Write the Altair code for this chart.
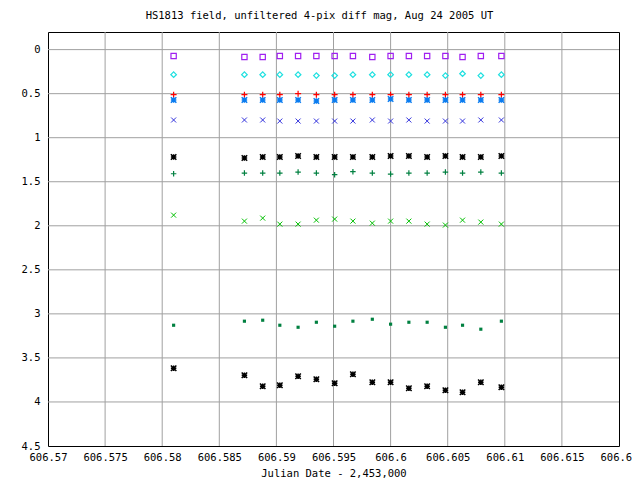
import altair as alt
import pandas as pd

# Julian Date - 2,453,000
jd = [606.5810, 606.5872, 606.5888, 606.5903, 606.5919, 606.5935, 606.5951, 606.5967,
      606.5984, 606.6000, 606.6016, 606.6032, 606.6048, 606.6063, 606.6079, 606.6097]

s_box = [0.072, 0.083, 0.083, 0.072, 0.072, 0.072, 0.072, 0.072, 0.083, 0.072, 0.072, 0.072, 0.072, 0.083, 0.072, 0.072]
s_diamond = [0.284, 0.284, 0.284, 0.284, 0.284, 0.295, 0.295, 0.284, 0.284, 0.284, 0.284, 0.284, 0.295, 0.273, 0.295, 0.284]
s_redplus = [0.511, 0.511, 0.511, 0.511, 0.500, 0.511, 0.511, 0.511, 0.511, 0.511, 0.511, 0.511, 0.511, 0.511, 0.511, 0.511]
s_bluestar = [0.572, 0.572, 0.572, 0.572, 0.572, 0.583, 0.572, 0.572, 0.572, 0.561, 0.572, 0.572, 0.572, 0.572, 0.572, 0.572]
s_bluex = [0.799, 0.799, 0.799, 0.811, 0.811, 0.811, 0.811, 0.811, 0.799, 0.811, 0.799, 0.811, 0.811, 0.811, 0.799, 0.799]
s_blackstar1 = [1.220, 1.231, 1.220, 1.220, 1.208, 1.220, 1.220, 1.220, 1.220, 1.208, 1.208, 1.220, 1.208, 1.220, 1.220, 1.208]
s_greenplus = [1.409, 1.402, 1.402, 1.402, 1.390, 1.402, 1.420, 1.386, 1.402, 1.413, 1.402, 1.402, 1.390, 1.402, 1.390, 1.402]
s_greenx = [1.879, 1.947, 1.913, 1.981, 1.981, 1.936, 1.924, 1.947, 1.970, 1.947, 1.947, 1.981, 1.992, 1.936, 1.958, 1.981]
s_greensq = [3.129, 3.083, 3.072, 3.129, 3.152, 3.095, 3.140, 3.083, 3.061, 3.117, 3.095, 3.095, 3.152, 3.129, 3.174, 3.083]
s_blackstar2 = [3.617, 3.697, 3.822, 3.811, 3.708, 3.742, 3.788, 3.686, 3.776, 3.776, 3.845, 3.822, 3.867, 3.890, 3.776, 3.833]

x_ticks = [606.57, 606.575, 606.58, 606.585, 606.59, 606.595, 606.6, 606.605, 606.61, 606.615, 606.62]
y_ticks = [0, 0.5, 1, 1.5, 2, 2.5, 3, 3.5, 4, 4.5]

TITLE = "HS1813 field, unfiltered 4-pix diff mag, Aug 24 2005 UT"
XTITLE = "Julian Date - 2,453,000"
FONT = "DejaVu Sans Mono"

PLUS = "M-1,0L1,0M0,-1L0,1"
CROSS = "M-1,-1L1,1M-1,1L1,-1"
STAR = PLUS + CROSS

series = [
    ("box", s_box, "square", "#a020f0", 28, False, 1.2),
    ("diamond", s_diamond, "diamond", "#20e0e0", 30, False, 1.3),
    ("redplus", s_redplus, PLUS, "#ff0000", 36, False, 1.2),
    ("bluestar", s_bluestar, STAR, "#0a7cf0", 30, False, 1.5),
    ("bluex", s_bluex, CROSS, "#3333dd", 25, False, 1),
    ("blackstar1", s_blackstar1, STAR, "#000000", 30, False, 1.5),
    ("greenplus", s_greenplus, PLUS, "#008040", 30, False, 1.2),
    ("greenx", s_greenx, CROSS, "#00c000", 25, False, 1),
    ("greensq", s_greensq, "square", "#008040", 10, True, 0),
    ("blackstar2", s_blackstar2, STAR, "#000000", 30, False, 1.5),
]

rows = []
for name, ys, *_ in series:
    for x, y in zip(jd, ys):
        rows.append({"series": name, "jd": x, "mag": y})
df = pd.DataFrame(rows)

xscale = alt.Scale(domain=[606.57, 606.62], nice=False, zero=False)
yscale = alt.Scale(domain=[-0.2, 4.5], nice=False, zero=False, reverse=True)
xaxis = alt.Axis(values=x_ticks, format=".3~f", title=XTITLE, grid=False, ticks=False,
                 domain=False, labelPadding=6, titlePadding=6,
                 labelOverlap=False, labelFlush=False)
yaxis = alt.Axis(values=y_ticks, format=".1~f", title=None, grid=False, ticks=False,
                 domain=False, labelPadding=8, labelOverlap=False, labelFlush=False)

X = alt.X("jd:Q", scale=xscale, axis=xaxis)
Y = alt.Y("mag:Q", scale=yscale, axis=yaxis)

gx = pd.DataFrame({"jd": x_ticks[1:-1]})
gy = pd.DataFrame({"mag": y_ticks[:-1]})

grid_x = alt.Chart(gx).mark_rule(color="#a0a0a0", strokeWidth=1).encode(x=X)
grid_y = alt.Chart(gy).mark_rule(color="#a0a0a0", strokeWidth=1).encode(y=Y)

layers = [grid_x, grid_y]
for name, ys, shape, color, size, filled, sw in series:
    kw = dict(shape=shape, color=color, size=size, filled=filled, opacity=1)
    if not filled:
        kw["strokeWidth"] = sw
    layers.append(
        alt.Chart(df).transform_filter(alt.datum.series == name)
        .mark_point(**kw).encode(x=X, y=Y)
    )

chart = alt.layer(*layers).properties(
    width=571, height=414,
    autosize=alt.AutoSizeParams(type="none"),
    padding={"left": 40, "top": 24, "right": 13, "bottom": 40},
    title=alt.TitleParams(TITLE, font=FONT, fontSize=10.5, fontWeight="normal",
                          color="black", anchor="middle", offset=10, dx=-14),
).configure_view(stroke="black", strokeWidth=1).configure_axis(
    labelFont=FONT, labelFontSize=10.5, labelColor="black",
    titleFont=FONT, titleFontSize=10.5, titleFontWeight="normal", titleColor="black",
)

chart.save("out.html", embed_options={"renderer": "svg", "actions": False})
